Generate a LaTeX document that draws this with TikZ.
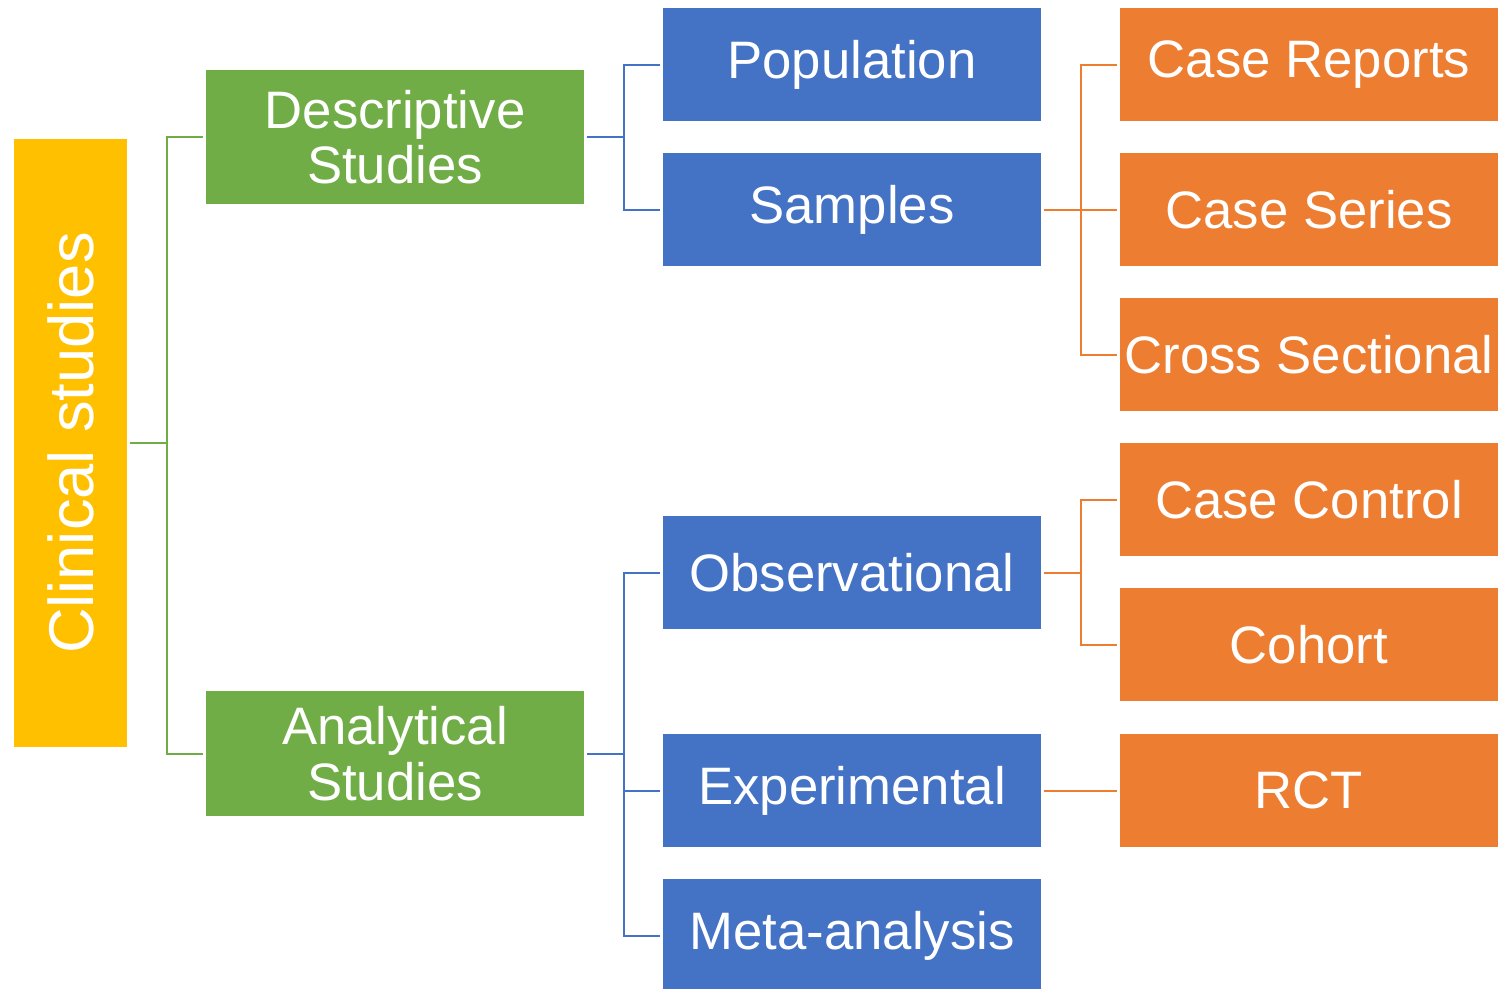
\documentclass[tikz,border=0pt]{standalone}
\usepackage{fontspec}
\setmainfont{Liberation Sans}
\usetikzlibrary{calc,positioning}
\definecolor{clinyellow}{HTML}{FFC000}
\definecolor{studgreen}{HTML}{70AD47}
\definecolor{typeblue}{HTML}{4472C4}
\definecolor{designorange}{HTML}{ED7D31}
\tikzset{
  basic/.style  = {rectangle, inner sep=0pt, text=white, align=center,
                   font=\fontsize{30}{31.5}\selectfont},
  root/.style   = {basic, fill=clinyellow, minimum width=2.26cm,
                   minimum height=12.16cm, font=\fontsize{36}{38}\selectfont},
  level 2/.style = {basic, fill=studgreen, minimum width=7.56cm},
  level 3/.style = {basic, fill=typeblue, minimum width=7.56cm, minimum height=2.26cm},
  level 4/.style = {basic, fill=designorange, minimum width=7.56cm, minimum height=2.26cm},
  fork/.style   = {line width=0.04cm, shorten <=0.06cm, shorten >=0.06cm,
                   to path={-| ($(\tikztostart)!.5!(\tikztotarget)$) |- (\tikztotarget)}}
}

\begin{document}
\begin{tikzpicture}[x=0.02cm, y=-0.02cm]
\useasboundingbox (0,0) rectangle (1503,988);

% raiz
\node[root] (clin) at (70.5,443) {\rotatebox{90}{Clinical studies}};

% kinds of studies
\node[level 2, minimum height=2.68cm] (desc) at (395,137) {Descriptive\\Studies};
\node[level 2, minimum height=2.5cm] (anal) at (395,753.5) {Analytical\\Studies};

% third level
\begin{scope}[every node/.style={level 3}]
\node (pop)  at (852,64.5)  {Population};
\node (samp) at (852,209.5) {Samples};
\node (obs)  at (852,572.5) {Observational};
\node (exp)  at (852,790.5) {Experimental};
\node (meta) at (852,935.5) {Meta-analysis};
\end{scope}

% study designs
\begin{scope}[every node/.style={level 4}]
\node (cr)  at (1309,64.5)  {Case Reports};
\node (cs)  at (1309,209.5) {Case Series};
\node (xs)  at (1309,354.5) {Cross Sectional};
\node (cc)  at (1309,499.5) {Case Control};
\node (coh) at (1309,644.5) {Cohort};
\node (rct) at (1309,790.5) {RCT};
\end{scope}

\foreach \value in {desc,anal}
  \draw[fork, studgreen] (clin.east) to (\value.west);
\foreach \value in {pop,samp}
  \draw[fork, typeblue] (desc.east) to (\value.west);
\foreach \value in {obs,exp,meta}
  \draw[fork, typeblue] (anal.east) to (\value.west);
\foreach \value in {cr,cs,xs}
  \draw[fork, designorange] (samp.east) to (\value.west);
\foreach \value in {cc,coh}
  \draw[fork, designorange] (obs.east) to (\value.west);
\draw[fork, designorange] (exp.east) to (rct.west);
\end{tikzpicture}
\end{document}
